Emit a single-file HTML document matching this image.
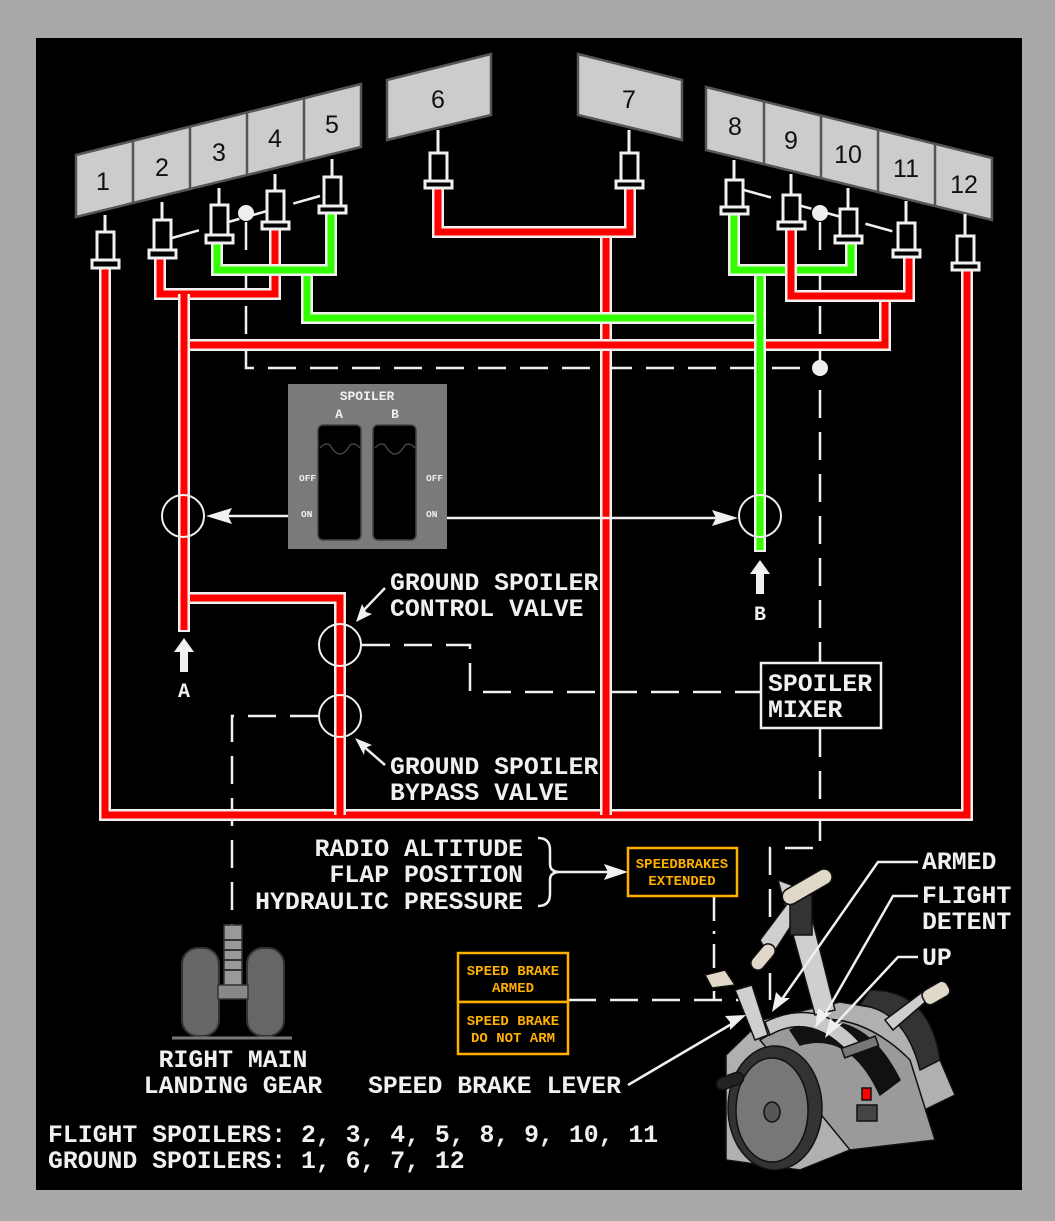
<!DOCTYPE html>
<html><head><meta charset="utf-8"><style>
html,body{margin:0;padding:0;background:#a8a8a8;}
svg{display:block}
text{font-family:"Liberation Mono",monospace;fill:#f0f0f0;}
.n{font-family:"Liberation Sans",sans-serif;font-size:25px;fill:#111;text-anchor:middle}
.t{font-size:24.8px;font-weight:bold}
.o{font-family:"Liberation Mono",monospace;font-weight:bold;font-size:14px;fill:#ffb000;text-anchor:middle}
.w{fill:none;stroke:#f0f0f0;stroke-width:12;stroke-linejoin:miter;stroke-linecap:butt}
.r{fill:none;stroke:#ff0000;stroke-width:7;stroke-linecap:butt}
.g{fill:none;stroke:#33ff00;stroke-width:7;stroke-linecap:butt}
.d{fill:none;stroke:#f0f0f0;stroke-width:2.5;stroke-dasharray:28 14}
.l{fill:none;stroke:#f0f0f0;stroke-width:2.5}
.p{fill:#cccccc;stroke:#555;stroke-width:2.5}
.a rect{fill:#000;stroke:#f0f0f0;stroke-width:3}
</style></head><body>
<svg width="1055" height="1221" viewBox="0 0 1055 1221" xmlns="http://www.w3.org/2000/svg">
<rect x="0" y="0" width="1055" height="1221" fill="#a8a8a8"/>
<rect x="36" y="38" width="986" height="1152" fill="#000"/>

<polygon class="p" points="76,155 361,84 361,147 76,217"/>
<g stroke="#555" stroke-width="2.5"><line x1="133" y1="141" x2="133" y2="203"/><line x1="190" y1="127" x2="190" y2="189"/><line x1="247" y1="113" x2="247" y2="175"/><line x1="304" y1="98" x2="304" y2="161"/></g>
<polygon class="p" points="387,80 491,54 491,115 387,140"/>
<polygon class="p" points="578,54 682,80 682,140 578,115"/>
<polygon class="p" points="706,87 992,158 992,220 706,150"/>
<g stroke="#555" stroke-width="2.5"><line x1="764" y1="101" x2="764" y2="164"/><line x1="821" y1="116" x2="821" y2="178"/><line x1="878" y1="130" x2="878" y2="192"/><line x1="935" y1="144" x2="935" y2="206"/></g>
<text class="n" x="103" y="190">1</text><text class="n" x="162" y="176">2</text><text class="n" x="219" y="161">3</text><text class="n" x="275" y="147">4</text><text class="n" x="332" y="133">5</text>
<text class="n" x="438" y="108">6</text><text class="n" x="629" y="108">7</text>
<text class="n" x="735" y="135">8</text><text class="n" x="791" y="149">9</text><text class="n" x="848" y="163">10</text><text class="n" x="906" y="177">11</text><text class="n" x="964" y="193">12</text>

<path class="d" d="M172,238 L320,196" stroke-dasharray="12 18"/>
<path class="d" d="M744,190 L895,232" stroke-dasharray="12 18"/>
<path class="d" d="M246,222 V368 H820"/>
<path class="d" d="M820,222 V662 M820,729 V848 H770 V1000"/>
<path class="d" d="M362,645 H470 V692 H760"/>
<path class="d" d="M318,716 H232 V925"/>
<path class="d" d="M568,1000 H745"/>
<path class="l" d="M714,897 V1000" stroke-dasharray="24 10 3 10"/>
<circle cx="246" cy="213" r="8" fill="#eee"/><circle cx="820" cy="213" r="8" fill="#eee"/><circle cx="820" cy="368" r="8" fill="#eee"/>

<g>
<path class="w" d="M105,268 V815 H967 V270"/><path class="r" d="M105,268 V815 H967 V270"/>
<path class="w" d="M606,232 V815"/><path class="r" d="M606,232 V815"/>
<path class="w" d="M184,598 H340 V815"/><path class="r" d="M184,598 H340 V815"/>
<path class="w" d="M438,188 V232 H630 V188"/><path class="r" d="M438,188 V232 H630 V188"/>
<path class="w" d="M307,270 V318 H760"/><path class="g" d="M307,270 V318 H760"/>
<path class="w" d="M184,345 H885 V296"/><path class="r" d="M184,345 H885 V296"/>
<path class="w" d="M160,257 V294 H275 V228"/><path class="r" d="M160,257 V294 H275 V228"/>
<path class="w" d="M184,294 V632"/><path class="r" d="M184,294 V630"/>
<path class="w" d="M217,242 V270 H331 V213"/><path class="g" d="M217,242 V270 H331 V213"/>
<path class="w" d="M760,270 V552"/><path class="g" d="M760,270 V550"/>
<path class="w" d="M734,214 V270 H851 V236"/><path class="g" d="M734,214 V270 H851 V236"/>
<path class="w" d="M791,222 V296 H909 V257"/><path class="r" d="M791,222 V296 H909 V257"/>
</g>

<g class="a" stroke="#f0f0f0" stroke-width="3">
<line x1="105" y1="215" x2="105" y2="232"/><rect x="97" y="232" width="17" height="28"/><rect x="92" y="260" width="27" height="8"/>
<line x1="162" y1="202" x2="162" y2="220"/><rect x="154" y="220" width="17" height="30"/><rect x="149" y="250" width="27" height="8"/>
<line x1="219" y1="188" x2="219" y2="205"/><rect x="211" y="205" width="17" height="30"/><rect x="206" y="235" width="27" height="8"/>
<line x1="275" y1="174" x2="275" y2="191"/><rect x="267" y="191" width="17" height="31"/><rect x="262" y="222" width="27" height="7"/>
<line x1="332" y1="159" x2="332" y2="177"/><rect x="324" y="177" width="17" height="29"/><rect x="319" y="206" width="27" height="7"/>
<line x1="438" y1="130" x2="438" y2="153"/><rect x="430" y="153" width="17" height="28"/><rect x="425" y="181" width="27" height="7"/>
<line x1="629" y1="130" x2="629" y2="153"/><rect x="621" y="153" width="17" height="28"/><rect x="616" y="181" width="27" height="7"/>
<line x1="734" y1="160" x2="734" y2="180"/><rect x="726" y="180" width="17" height="27"/><rect x="721" y="207" width="27" height="7"/>
<line x1="791" y1="174" x2="791" y2="195"/><rect x="783" y="195" width="17" height="27"/><rect x="778" y="222" width="27" height="7"/>
<line x1="848" y1="188" x2="848" y2="209"/><rect x="840" y="209" width="17" height="27"/><rect x="835" y="236" width="27" height="7"/>
<line x1="906" y1="201" x2="906" y2="223"/><rect x="898" y="223" width="17" height="27"/><rect x="893" y="250" width="27" height="7"/>
<line x1="965" y1="214" x2="965" y2="236"/><rect x="957" y="236" width="17" height="27"/><rect x="952" y="263" width="27" height="7"/>
</g>

<rect x="288" y="384" width="159" height="165" fill="#7a7a7a"/>
<text x="367" y="400" font-size="13" font-weight="bold" text-anchor="middle">SPOILER</text>
<text x="339" y="418" font-size="13" font-weight="bold" text-anchor="middle">A</text>
<text x="395" y="418" font-size="13" font-weight="bold" text-anchor="middle">B</text>
<g fill="#000" stroke="#444" stroke-width="1.5">
<rect x="318" y="425" width="43" height="115" rx="5"/><rect x="373" y="425" width="43" height="115" rx="5"/>
<path d="M320,448 q5,-6 10,-3 q10,18 20,0 q5,-3 10,3" fill="none"/><path d="M375,448 q5,-6 10,-3 q10,18 20,0 q5,-3 10,3" fill="none"/>
</g>
<text x="299" y="481" font-size="9.5" font-weight="bold">OFF</text><text x="301" y="517" font-size="9.5" font-weight="bold">ON</text>
<text x="426" y="481" font-size="9.5" font-weight="bold">OFF</text><text x="426" y="517" font-size="9.5" font-weight="bold">ON</text>

<g fill="none" stroke="#f0f0f0" stroke-width="2"><circle cx="183" cy="516" r="21"/><circle cx="760" cy="516" r="21"/><circle cx="340" cy="645" r="21"/><circle cx="340" cy="716" r="21"/></g>
<line class="l" x1="288" y1="516" x2="225" y2="516"/><polygon points="206,516 232,508 228,516 232,524" fill="#f0f0f0"/>
<line class="l" x1="447" y1="518" x2="718" y2="518"/><polygon points="738,518 712,510 716,518 712,526" fill="#f0f0f0"/>
<polygon points="184,638 174,652 180,652 180,672 188,672 188,652 194,652" fill="#f0f0f0"/>
<text x="184" y="697" font-size="20" font-weight="bold" text-anchor="middle">A</text>
<polygon points="760,560 750,574 756,574 756,594 764,594 764,574 770,574" fill="#f0f0f0"/>
<text x="760" y="620" font-size="20" font-weight="bold" text-anchor="middle">B</text>
<line class="l" x1="385" y1="588" x2="362" y2="612"/><polygon points="356,622 362,604 366,612 372,614" fill="#f0f0f0"/>
<line class="l" x1="385" y1="765" x2="362" y2="745"/><polygon points="355,738 372,745 365,748 364,755" fill="#f0f0f0"/>
<text class="t" x="390" y="590">GROUND SPOILER</text>
<text class="t" x="390" y="616">CONTROL VALVE</text>
<text class="t" x="390" y="774">GROUND SPOILER</text>
<text class="t" x="390" y="800">BYPASS VALVE</text>

<rect x="761" y="663" width="120" height="65" fill="#000" stroke="#f0f0f0" stroke-width="2.5"/>
<text class="t" x="768" y="691">SPOILER</text><text class="t" x="768" y="717">MIXER</text>

<text class="t" x="523" y="856" text-anchor="end">RADIO ALTITUDE</text>
<text class="t" x="523" y="882" text-anchor="end">FLAP POSITION</text>
<text class="t" x="523" y="909" text-anchor="end">HYDRAULIC PRESSURE</text>
<path d="M538,838 q12,0 12,12 v14 q0,8 10,8 q-10,0 -10,8 v14 q0,12 -12,12" fill="none" stroke="#f0f0f0" stroke-width="2.5"/>
<line class="l" x1="560" y1="872" x2="608" y2="872"/><polygon points="628,872 604,864 608,872 604,880" fill="#f0f0f0"/>
<rect x="628" y="848" width="109" height="48" fill="#000" stroke="#ffb000" stroke-width="2.5"/>
<text class="o" x="682" y="868">SPEEDBRAKES</text><text class="o" x="682" y="885">EXTENDED</text>
<rect x="458" y="953" width="110" height="49" fill="#000" stroke="#ffb000" stroke-width="2.5"/>
<rect x="458" y="1002" width="110" height="52" fill="#000" stroke="#ffb000" stroke-width="2.5"/>
<text class="o" x="513" y="975">SPEED BRAKE</text><text class="o" x="513" y="992">ARMED</text>
<text class="o" x="513" y="1025">SPEED BRAKE</text><text class="o" x="513" y="1042">DO NOT ARM</text>

<g>
<rect x="182" y="948" width="37" height="88" rx="16" fill="#666" stroke="#333" stroke-width="2"/>
<rect x="247" y="948" width="37" height="88" rx="16" fill="#666" stroke="#333" stroke-width="2"/>
<rect x="224" y="925" width="18" height="70" fill="#999" stroke="#333" stroke-width="1.5"/>
<g stroke="#333" stroke-width="2"><line x1="224" y1="940" x2="242" y2="940"/><line x1="224" y1="950" x2="242" y2="950"/><line x1="224" y1="960" x2="242" y2="960"/><line x1="224" y1="970" x2="242" y2="970"/></g>
<rect x="218" y="985" width="30" height="14" fill="#888" stroke="#333" stroke-width="1.5"/>
<line x1="172" y1="1038" x2="292" y2="1038" stroke="#777" stroke-width="3"/>
</g>
<text class="t" x="233" y="1067" text-anchor="middle">RIGHT MAIN</text>
<text class="t" x="233" y="1093" text-anchor="middle">LANDING GEAR</text>

<g stroke="#111" stroke-width="1.5">
<polygon points="726,1160 726,1055 762,1020 840,1002 900,1012 940,1060 955,1095 920,1112 850,1150 800,1170" fill="#b0b0b0"/>
<path d="M760,1040 Q840,990 910,1060 L935,1140 L850,1150 Z" fill="#9a9a9a"/>
<path d="M870,990 Q930,990 940,1060 L920,1070 Q905,1010 860,1005 Z" fill="#333"/>
<path d="M790,1030 Q860,1000 900,1080 L880,1095 Q850,1030 800,1045 Z" fill="#111"/>
<path d="M765,1022 Q820,995 862,1045 L848,1052 Q810,1012 770,1035 Z" fill="#c8c8c8"/>
<ellipse cx="775" cy="1108" rx="47" ry="62" fill="#333"/>
<ellipse cx="772" cy="1110" rx="36" ry="52" fill="#777"/>
<ellipse cx="772" cy="1112" rx="8" ry="10" fill="#555"/>
<rect x="716" y="1075" width="28" height="12" rx="6" fill="#222" transform="rotate(-20 730 1081)"/>
<polygon points="778,880 805,890 835,1010 815,1015" fill="#cfcfcf"/>
<polygon points="760,940 790,900 798,915 770,958" fill="#cfcfcf"/>
<rect x="790" y="895" width="22" height="40" fill="#333"/>
<rect x="780" y="880" width="55" height="16" rx="8" fill="#e0d8c8" transform="rotate(-30 805 888)"/>
<rect x="748" y="950" width="30" height="14" rx="7" fill="#e0d8c8" transform="rotate(-50 763 957)"/>
<polygon points="735,990 752,985 768,1035 755,1040" fill="#cfcfcf"/>
<polygon points="705,975 725,970 735,985 712,988" fill="#e0d8c8"/>
<polygon points="885,1020 925,990 930,998 893,1030" fill="#cfcfcf"/>
<rect x="922" y="985" width="28" height="16" rx="6" fill="#e0d8c8" transform="rotate(-30 936 993)"/>
<rect x="842" y="1042" width="36" height="10" fill="#777" transform="rotate(-20 860 1047)"/>
<rect x="862" y="1088" width="9" height="12" fill="#f00"/>
<rect x="857" y="1105" width="20" height="16" fill="#444"/>
</g>
<path class="l" d="M918,862 H878 L780,1002"/><polygon points="772,1012 776,992 782,998 790,998" fill="#f0f0f0"/>
<path class="l" d="M918,896 H893 L823,1018"/><polygon points="815,1028 818,1008 825,1013 832,1012" fill="#f0f0f0"/>
<path class="l" d="M918,957 H898 L832,1028"/><polygon points="825,1038 830,1018 836,1024 843,1023" fill="#f0f0f0"/>
<path class="l" d="M628,1085 L735,1022"/><polygon points="746,1015 730,1030 730,1022 725,1016" fill="#f0f0f0"/>
<text class="t" x="922" y="869">ARMED</text>
<text class="t" x="922" y="903">FLIGHT</text>
<text class="t" x="922" y="929">DETENT</text>
<text class="t" x="922" y="965">UP</text>
<text class="t" x="368" y="1093">SPEED BRAKE LEVER</text>
<text class="t" x="48" y="1142">FLIGHT SPOILERS: 2, 3, 4, 5, 8, 9, 10, 11</text>
<text class="t" x="48" y="1168">GROUND SPOILERS: 1, 6, 7, 12</text>
</svg>
</body></html>
